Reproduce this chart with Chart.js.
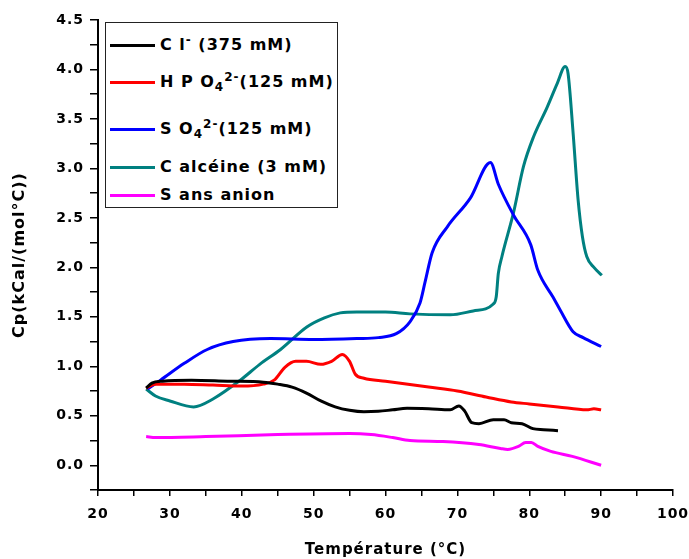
<!DOCTYPE html>
<html>
<head>
<meta charset="utf-8">
<script src="https://cdn.jsdelivr.net/npm/chart.js@4.4.0/dist/chart.umd.min.js"></script>
<style>
  html, body { margin: 0; padding: 0; background: #fff; }
  #wrap { position: relative; width: 689px; height: 559px; }
  #legend {
    position: absolute; left: 105px; top: 22px; width: 231px; height: 184px;
    border: 1px solid #222; background: #fff;
    font-family: 'DejaVu Sans', sans-serif; font-weight: bold; font-size: 16px; letter-spacing: 1px;
  }
  .row { position: absolute; left: 4px; height: 20px; display: flex; align-items: center; white-space: nowrap; }
  .swatch { width: 45px; height: 3px; margin-right: 5px; }
  .row span { line-height: 20px; }
  sub, sup { font-size: 12px; line-height: 0; }
</style>
</head>
<body>
<div id="wrap">
  <canvas id="cpChart" width="689" height="559"></canvas>
  <div id="legend"></div>
</div>
<script>
// Données (température en °C, Cp en kCal/(mol°C))
const seriesLabels = ['Cl⁻ (375 mM)', 'HPO₄²⁻(125 mM)', 'SO₄²⁻(125 mM)', 'Calcéine (3 mM)', 'Sans anion'];
const legendHtml = ['C l<sup>-</sup> (375 mM)', 'H P O<sub>4</sub><sup>2-</sup>(125 mM)', 'S O<sub>4</sub><sup>2-</sup>(125 mM)', 'C alcéine (3 mM)', 'S ans anion'];
const colors = ['#000000', '#ff0000', '#0000ff', '#008080', '#ff00ff'];

const clT  = [26.7, 27.5, 29, 33, 38, 43, 45, 47, 49, 51, 53, 55, 57, 59, 61, 63, 66, 69, 70.2, 71, 72, 73, 75, 76.5, 77.5, 79, 80.5, 82, 84];
const clCp = [0.78, 0.83, 0.85, 0.86, 0.85, 0.84, 0.82, 0.79, 0.73, 0.65, 0.59, 0.555, 0.54, 0.545, 0.56, 0.575, 0.57, 0.56, 0.6, 0.55, 0.43, 0.42, 0.46, 0.46, 0.43, 0.42, 0.37, 0.36, 0.35];

const hpoT  = [26.7, 28, 32, 36, 40, 43, 44.5, 46, 47.5, 49, 51, 52.5, 54, 55, 55.8, 57, 60, 66, 70, 74, 77.5, 80, 84, 88, 89, 90];
const hpoCp = [0.78, 0.82, 0.82, 0.81, 0.80, 0.82, 0.86, 0.99, 1.05, 1.05, 1.02, 1.05, 1.12, 1.05, 0.92, 0.88, 0.85, 0.79, 0.75, 0.69, 0.64, 0.62, 0.59, 0.56, 0.57, 0.56];

const so4T  = [26.9, 28.7, 32, 35.2, 38.8, 44, 50, 56, 59, 61.5, 63.4, 64.8, 65.5, 66.5, 68.6, 71.8, 74.6, 75.7, 77.8, 80.2, 81.2, 83.3, 84.3, 86.1, 87.5, 90];
const so4Cp = [0.77, 0.86, 1.03, 1.17, 1.25, 1.28, 1.27, 1.28, 1.29, 1.33, 1.45, 1.64, 1.85, 2.15, 2.41, 2.70, 3.06, 2.84, 2.53, 2.23, 1.97, 1.70, 1.57, 1.35, 1.29, 1.20];

const calT  = [26.7, 28, 30, 33.3, 36, 39.8, 42.5, 45.4, 49.1, 51.5, 53.7, 56, 60, 63.4, 69, 72.2, 75, 75.4, 75.7, 76.2, 77.8, 79.2, 80.6, 82.5, 83.9, 85, 85.4, 86.1, 86.8, 87.4, 88, 89, 90.1];
const calCp = [0.77, 0.70, 0.65, 0.59, 0.67, 0.86, 1.02, 1.17, 1.40, 1.49, 1.54, 1.55, 1.55, 1.53, 1.52, 1.56, 1.63, 1.70, 1.94, 2.11, 2.55, 3.02, 3.32, 3.62, 3.86, 4.03, 3.96, 3.36, 2.68, 2.31, 2.11, 2.0, 1.92];

const sansT  = [26.7, 28, 35, 45, 55, 58, 61, 63.4, 68, 73, 76, 77, 78.5, 79.5, 80.3, 81.2, 83, 86, 90];
const sansCp = [0.29, 0.28, 0.29, 0.31, 0.32, 0.31, 0.28, 0.25, 0.24, 0.21, 0.17, 0.16, 0.19, 0.23, 0.23, 0.19, 0.14, 0.09, 0.0];

const seriesT  = [clT, hpoT, so4T, calT, sansT];
const seriesCp = [clCp, hpoCp, so4Cp, calCp, sansCp];

function toPoints(xs, ys) {
    return xs.map((x, i) => ({ x: x, y: ys[i] }));
}

// Légende en HTML (indices et exposants)
const legendBox = document.getElementById('legend');
const rowCenters = [22, 59, 106, 144, 172];
legendHtml.forEach((txt, i) => {
    const row = document.createElement('div');
    row.className = 'row';
    row.style.top = (rowCenters[i] - 10) + 'px';
    row.innerHTML = `<div class="swatch" style="background:${colors[i]}"></div><span>${txt}</span>`;
    legendBox.appendChild(row);
});

const tickFont = { family: 'DejaVu Sans', size: 14, weight: 'bold' };
const titleFont = { family: 'DejaVu Sans', size: 15, weight: 'bold' };

const spacing = {
    id: 'spacing',
    beforeDraw(chart) { chart.ctx.letterSpacing = '1px'; }
};

new Chart(document.getElementById('cpChart').getContext('2d'), {
    type: 'line',
    data: {
        datasets: seriesLabels.map((label, i) => ({
            label: label,
            data: toPoints(seriesT[i], seriesCp[i]),
            borderColor: colors[i],
            backgroundColor: colors[i],
            borderWidth: 3,
            pointRadius: 0,
            cubicInterpolationMode: 'monotone',
            fill: false
        }))
    },
    options: {
        responsive: false,
        animation: false,
        layout: { padding: { top: 20, right: 16, left: 0, bottom: 0 } },
        plugins: { legend: { display: false }, tooltip: { enabled: false } },
        scales: {
            x: {
                type: 'linear',
                min: 20, max: 100,
                afterFit: s => { s.height = 69; s.paddingLeft = 0; s.paddingRight = 0; },
                border: { color: '#000', width: 2 },
                grid: { drawOnChartArea: false, color: '#000', lineWidth: 1.5, tickLength: 6 },
                ticks: {
                    stepSize: 5, autoSkip: false, maxRotation: 0, padding: 10,
                    color: '#000', font: tickFont,
                    callback: v => (Math.round(v) % 10 === 0 ? String(Math.round(v)) : '')
                },
                title: { display: true, text: 'Température (°C)', color: '#000', font: titleFont, padding: { top: 0, bottom: 0 } }
            },
            y: {
                min: -0.25, max: 4.5,
                afterFit: s => { s.width = 98; s.paddingTop = 0; s.paddingBottom = 0; },
                border: { color: '#000', width: 2 },
                grid: { drawOnChartArea: false, color: '#000', lineWidth: 1.5, tickLength: 8 },
                ticks: {
                    stepSize: 0.25, autoSkip: false, padding: 6,
                    color: '#000', font: tickFont,
                    callback: v => (v >= 0 && Math.abs(v * 2 - Math.round(v * 2)) < 1e-6 ? v.toFixed(1) : '')
                },
                title: { display: true, text: 'Cp(kCal/(mol°C))', color: '#000', font: { family: 'DejaVu Sans', size: 16, weight: 'bold' }, padding: { top: 10, bottom: 0 } }
            }
        }
    },
    plugins: [spacing]
});
</script>
</body>
</html>
